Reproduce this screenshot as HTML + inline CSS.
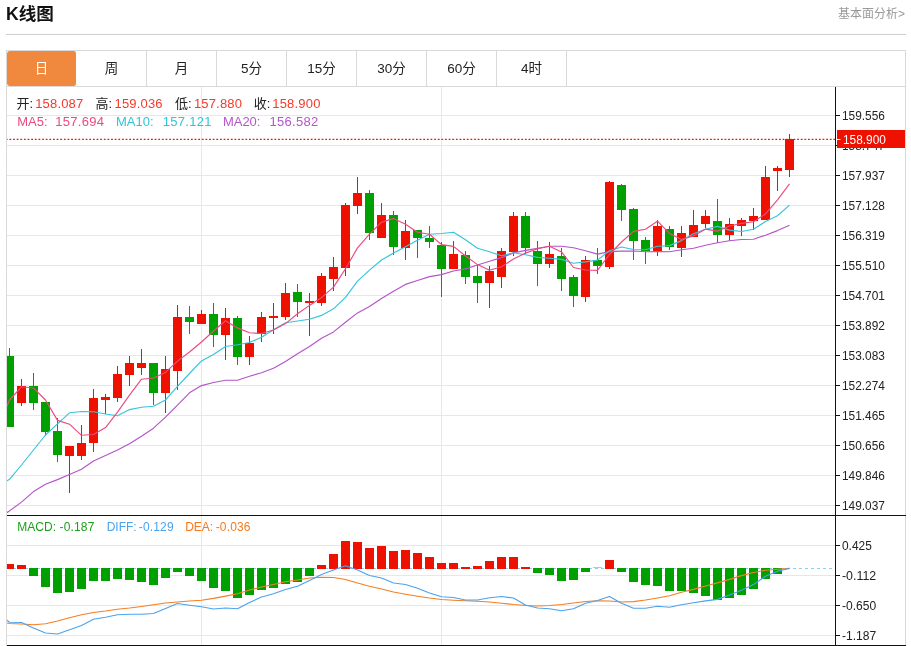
<!DOCTYPE html>
<html lang="zh-CN"><head><meta charset="utf-8"><title>K线图</title>
<style>
html,body{margin:0;padding:0;background:#fff;}
body{width:911px;height:646px;position:relative;overflow:hidden;font-family:"Liberation Sans","Noto Sans CJK SC",sans-serif;}
.title{position:absolute;left:6px;top:1.6px;font-size:17.6px;font-weight:bold;color:#111;line-height:24px;white-space:nowrap;}
.more{position:absolute;right:6px;top:5.5px;font-size:12px;color:#999;line-height:16px;white-space:nowrap;}
.hr{position:absolute;left:6px;top:34px;width:900px;height:1px;background:#cfcfcf;}
.tabs{position:absolute;left:6px;top:50px;width:898px;height:35px;border:1px solid #d9d9d9;background:#fff;}
.tab{float:left;width:69px;height:35px;line-height:35px;border-right:1px solid #d9d9d9;text-align:center;font-size:13.5px;color:#222;}
.tab.on{background:#f0883e;color:#fff;border-right-color:#fff;border-radius:3px;}
.t{position:absolute;line-height:16px;white-space:nowrap;}
</style></head><body>
<div class="title">K线图</div>
<div class="more">基本面分析&gt;</div>
<div class="hr"></div>
<div class="tabs"><div class="tab on">日</div><div class="tab">周</div><div class="tab">月</div><div class="tab">5分</div><div class="tab">15分</div><div class="tab">30分</div><div class="tab">60分</div><div class="tab">4时</div></div>
<svg width="911" height="646" viewBox="0 0 911 646" style="position:absolute;left:0;top:0">
<defs><clipPath id="cp"><rect x="7" y="87" width="828" height="559"/></clipPath></defs>
<g fill="#dfe9f1" shape-rendering="crispEdges">
<rect x="7" y="115" width="828" height="1"/>
<rect x="7" y="145" width="828" height="1"/>
<rect x="7" y="175" width="828" height="1"/>
<rect x="7" y="205" width="828" height="1"/>
<rect x="7" y="235" width="828" height="1"/>
<rect x="7" y="265" width="828" height="1"/>
<rect x="7" y="295" width="828" height="1"/>
<rect x="7" y="325" width="828" height="1"/>
<rect x="7" y="355" width="828" height="1"/>
<rect x="7" y="385" width="828" height="1"/>
<rect x="7" y="415" width="828" height="1"/>
<rect x="7" y="445" width="828" height="1"/>
<rect x="7" y="475" width="828" height="1"/>
<rect x="7" y="505" width="828" height="1"/>
<rect x="7" y="545" width="828" height="1"/>
<rect x="7" y="575" width="828" height="1"/>
<rect x="7" y="605" width="828" height="1"/>
<rect x="7" y="635" width="828" height="1"/>
<rect x="201" y="87" width="1" height="559"/>
<rect x="441" y="87" width="1" height="559"/>
</g>
<g shape-rendering="crispEdges">
<rect x="6" y="87" width="1" height="559" fill="#d9d9d9"/>
<rect x="905" y="87" width="1" height="559" fill="#d9d9d9"/>
</g>
<g clip-path="url(#cp)">
<line x1="7" y1="568.5" x2="835" y2="568.5" stroke="#8ccff2" stroke-width="1" stroke-dasharray="3 3"/>
<g shape-rendering="crispEdges">
<rect x="9" y="348" width="1" height="79" fill="#00a000"/>
<rect x="5" y="356" width="9" height="71" fill="#00a000"/>
<rect x="21" y="379" width="1" height="27" fill="#ee1100"/>
<rect x="17" y="386" width="9" height="17" fill="#ee1100"/>
<rect x="33" y="373" width="1" height="37" fill="#00a000"/>
<rect x="29" y="386" width="9" height="17" fill="#00a000"/>
<rect x="45" y="402" width="1" height="34" fill="#00a000"/>
<rect x="41" y="402" width="9" height="30" fill="#00a000"/>
<rect x="57" y="418" width="1" height="44" fill="#00a000"/>
<rect x="53" y="431" width="9" height="24" fill="#00a000"/>
<rect x="69" y="446" width="1" height="47" fill="#ee1100"/>
<rect x="65" y="446" width="9" height="10" fill="#ee1100"/>
<rect x="81" y="425" width="1" height="35" fill="#ee1100"/>
<rect x="77" y="443" width="9" height="13" fill="#ee1100"/>
<rect x="93" y="389" width="1" height="63" fill="#ee1100"/>
<rect x="89" y="398" width="9" height="45" fill="#ee1100"/>
<rect x="105" y="394" width="1" height="20" fill="#ee1100"/>
<rect x="101" y="397" width="9" height="3" fill="#ee1100"/>
<rect x="117" y="366" width="1" height="36" fill="#ee1100"/>
<rect x="113" y="374" width="9" height="24" fill="#ee1100"/>
<rect x="129" y="356" width="1" height="30" fill="#ee1100"/>
<rect x="125" y="363" width="9" height="12" fill="#ee1100"/>
<rect x="141" y="349" width="1" height="26" fill="#ee1100"/>
<rect x="137" y="363" width="9" height="5" fill="#ee1100"/>
<rect x="153" y="363" width="1" height="42" fill="#00a000"/>
<rect x="149" y="363" width="9" height="30" fill="#00a000"/>
<rect x="165" y="356" width="1" height="57" fill="#ee1100"/>
<rect x="161" y="369" width="9" height="24" fill="#ee1100"/>
<rect x="177" y="305" width="1" height="85" fill="#ee1100"/>
<rect x="173" y="317" width="9" height="54" fill="#ee1100"/>
<rect x="189" y="306" width="1" height="28" fill="#00a000"/>
<rect x="185" y="317" width="9" height="5" fill="#00a000"/>
<rect x="201" y="310" width="1" height="14" fill="#ee1100"/>
<rect x="197" y="314" width="9" height="10" fill="#ee1100"/>
<rect x="213" y="303" width="1" height="44" fill="#00a000"/>
<rect x="209" y="314" width="9" height="21" fill="#00a000"/>
<rect x="225" y="308" width="1" height="52" fill="#ee1100"/>
<rect x="221" y="318" width="9" height="17" fill="#ee1100"/>
<rect x="237" y="316" width="1" height="49" fill="#00a000"/>
<rect x="233" y="318" width="9" height="39" fill="#00a000"/>
<rect x="249" y="336" width="1" height="29" fill="#ee1100"/>
<rect x="245" y="343" width="9" height="14" fill="#ee1100"/>
<rect x="261" y="312" width="1" height="30" fill="#ee1100"/>
<rect x="257" y="317" width="9" height="17" fill="#ee1100"/>
<rect x="273" y="303" width="1" height="31" fill="#ee1100"/>
<rect x="269" y="316" width="9" height="2" fill="#ee1100"/>
<rect x="285" y="283" width="1" height="37" fill="#ee1100"/>
<rect x="281" y="293" width="9" height="24" fill="#ee1100"/>
<rect x="297" y="284" width="1" height="33" fill="#00a000"/>
<rect x="293" y="292" width="9" height="10" fill="#00a000"/>
<rect x="309" y="293" width="1" height="43" fill="#ee1100"/>
<rect x="305" y="301" width="9" height="2" fill="#ee1100"/>
<rect x="321" y="273" width="1" height="33" fill="#ee1100"/>
<rect x="317" y="276" width="9" height="27" fill="#ee1100"/>
<rect x="333" y="257" width="1" height="34" fill="#ee1100"/>
<rect x="329" y="267" width="9" height="12" fill="#ee1100"/>
<rect x="345" y="203" width="1" height="73" fill="#ee1100"/>
<rect x="341" y="205" width="9" height="63" fill="#ee1100"/>
<rect x="357" y="177" width="1" height="37" fill="#ee1100"/>
<rect x="353" y="193" width="9" height="13" fill="#ee1100"/>
<rect x="369" y="190" width="1" height="50" fill="#00a000"/>
<rect x="365" y="193" width="9" height="40" fill="#00a000"/>
<rect x="381" y="203" width="1" height="35" fill="#ee1100"/>
<rect x="377" y="215" width="9" height="23" fill="#ee1100"/>
<rect x="393" y="211" width="1" height="44" fill="#00a000"/>
<rect x="389" y="215" width="9" height="32" fill="#00a000"/>
<rect x="405" y="220" width="1" height="40" fill="#ee1100"/>
<rect x="401" y="231" width="9" height="17" fill="#ee1100"/>
<rect x="417" y="230" width="1" height="28" fill="#00a000"/>
<rect x="413" y="230" width="9" height="8" fill="#00a000"/>
<rect x="429" y="226" width="1" height="22" fill="#00a000"/>
<rect x="425" y="238" width="9" height="4" fill="#00a000"/>
<rect x="441" y="242" width="1" height="55" fill="#00a000"/>
<rect x="437" y="245" width="9" height="24" fill="#00a000"/>
<rect x="453" y="241" width="1" height="28" fill="#ee1100"/>
<rect x="449" y="254" width="9" height="15" fill="#ee1100"/>
<rect x="465" y="251" width="1" height="33" fill="#00a000"/>
<rect x="461" y="255" width="9" height="22" fill="#00a000"/>
<rect x="477" y="265" width="1" height="38" fill="#00a000"/>
<rect x="473" y="276" width="9" height="7" fill="#00a000"/>
<rect x="489" y="266" width="1" height="42" fill="#ee1100"/>
<rect x="485" y="271" width="9" height="12" fill="#ee1100"/>
<rect x="501" y="248" width="1" height="40" fill="#ee1100"/>
<rect x="497" y="251" width="9" height="26" fill="#ee1100"/>
<rect x="513" y="212" width="1" height="44" fill="#ee1100"/>
<rect x="509" y="216" width="9" height="36" fill="#ee1100"/>
<rect x="525" y="212" width="1" height="42" fill="#00a000"/>
<rect x="521" y="216" width="9" height="32" fill="#00a000"/>
<rect x="537" y="241" width="1" height="45" fill="#00a000"/>
<rect x="533" y="251" width="9" height="13" fill="#00a000"/>
<rect x="549" y="242" width="1" height="26" fill="#ee1100"/>
<rect x="545" y="254" width="9" height="10" fill="#ee1100"/>
<rect x="561" y="248" width="1" height="43" fill="#00a000"/>
<rect x="557" y="256" width="9" height="23" fill="#00a000"/>
<rect x="573" y="275" width="1" height="32" fill="#00a000"/>
<rect x="569" y="277" width="9" height="19" fill="#00a000"/>
<rect x="585" y="256" width="1" height="46" fill="#ee1100"/>
<rect x="581" y="260" width="9" height="37" fill="#ee1100"/>
<rect x="597" y="248" width="1" height="26" fill="#00a000"/>
<rect x="593" y="260" width="9" height="6" fill="#00a000"/>
<rect x="609" y="181" width="1" height="88" fill="#ee1100"/>
<rect x="605" y="182" width="9" height="85" fill="#ee1100"/>
<rect x="621" y="184" width="1" height="37" fill="#00a000"/>
<rect x="617" y="185" width="9" height="25" fill="#00a000"/>
<rect x="633" y="208" width="1" height="52" fill="#00a000"/>
<rect x="629" y="209" width="9" height="32" fill="#00a000"/>
<rect x="645" y="237" width="1" height="27" fill="#00a000"/>
<rect x="641" y="240" width="9" height="11" fill="#00a000"/>
<rect x="657" y="220" width="1" height="36" fill="#ee1100"/>
<rect x="653" y="226" width="9" height="25" fill="#ee1100"/>
<rect x="669" y="226" width="1" height="24" fill="#00a000"/>
<rect x="665" y="229" width="9" height="18" fill="#00a000"/>
<rect x="681" y="226" width="1" height="31" fill="#ee1100"/>
<rect x="677" y="233" width="9" height="15" fill="#ee1100"/>
<rect x="693" y="210" width="1" height="27" fill="#ee1100"/>
<rect x="689" y="225" width="9" height="12" fill="#ee1100"/>
<rect x="705" y="210" width="1" height="18" fill="#ee1100"/>
<rect x="701" y="216" width="9" height="8" fill="#ee1100"/>
<rect x="717" y="199" width="1" height="44" fill="#00a000"/>
<rect x="713" y="221" width="9" height="14" fill="#00a000"/>
<rect x="729" y="218" width="1" height="23" fill="#ee1100"/>
<rect x="725" y="224" width="9" height="11" fill="#ee1100"/>
<rect x="741" y="218" width="1" height="18" fill="#ee1100"/>
<rect x="737" y="220" width="9" height="6" fill="#ee1100"/>
<rect x="753" y="208" width="1" height="22" fill="#ee1100"/>
<rect x="749" y="216" width="9" height="5" fill="#ee1100"/>
<rect x="765" y="166" width="1" height="54" fill="#ee1100"/>
<rect x="761" y="177" width="9" height="43" fill="#ee1100"/>
<rect x="777" y="166" width="1" height="25" fill="#ee1100"/>
<rect x="773" y="168" width="9" height="3" fill="#ee1100"/>
<rect x="789" y="134" width="1" height="43" fill="#ee1100"/>
<rect x="785" y="139" width="9" height="31" fill="#ee1100"/>
<rect x="5" y="564" width="9" height="5" fill="#ee1100"/>
<rect x="17" y="565" width="9" height="4" fill="#ee1100"/>
<rect x="29" y="568" width="9" height="8" fill="#00a000"/>
<rect x="41" y="568" width="9" height="19" fill="#00a000"/>
<rect x="53" y="568" width="9" height="25" fill="#00a000"/>
<rect x="65" y="568" width="9" height="24" fill="#00a000"/>
<rect x="77" y="568" width="9" height="21" fill="#00a000"/>
<rect x="89" y="568" width="9" height="13" fill="#00a000"/>
<rect x="101" y="568" width="9" height="13" fill="#00a000"/>
<rect x="113" y="568" width="9" height="11" fill="#00a000"/>
<rect x="125" y="568" width="9" height="12" fill="#00a000"/>
<rect x="137" y="568" width="9" height="14" fill="#00a000"/>
<rect x="149" y="568" width="9" height="17" fill="#00a000"/>
<rect x="161" y="568" width="9" height="10" fill="#00a000"/>
<rect x="173" y="568" width="9" height="4" fill="#00a000"/>
<rect x="185" y="568" width="9" height="8" fill="#00a000"/>
<rect x="197" y="568" width="9" height="13" fill="#00a000"/>
<rect x="209" y="568" width="9" height="20" fill="#00a000"/>
<rect x="221" y="568" width="9" height="23" fill="#00a000"/>
<rect x="233" y="568" width="9" height="30" fill="#00a000"/>
<rect x="245" y="568" width="9" height="27" fill="#00a000"/>
<rect x="257" y="568" width="9" height="22" fill="#00a000"/>
<rect x="269" y="568" width="9" height="20" fill="#00a000"/>
<rect x="281" y="568" width="9" height="16" fill="#00a000"/>
<rect x="293" y="568" width="9" height="14" fill="#00a000"/>
<rect x="305" y="568" width="9" height="8" fill="#00a000"/>
<rect x="317" y="565" width="9" height="4" fill="#ee1100"/>
<rect x="329" y="554" width="9" height="15" fill="#ee1100"/>
<rect x="341" y="541" width="9" height="28" fill="#ee1100"/>
<rect x="353" y="542" width="9" height="27" fill="#ee1100"/>
<rect x="365" y="548" width="9" height="21" fill="#ee1100"/>
<rect x="377" y="546" width="9" height="23" fill="#ee1100"/>
<rect x="389" y="551" width="9" height="18" fill="#ee1100"/>
<rect x="401" y="550" width="9" height="19" fill="#ee1100"/>
<rect x="413" y="553" width="9" height="16" fill="#ee1100"/>
<rect x="425" y="557" width="9" height="12" fill="#ee1100"/>
<rect x="437" y="563" width="9" height="6" fill="#ee1100"/>
<rect x="449" y="563" width="9" height="6" fill="#ee1100"/>
<rect x="461" y="567" width="9" height="2" fill="#ee1100"/>
<rect x="473" y="566" width="9" height="3" fill="#ee1100"/>
<rect x="485" y="561" width="9" height="8" fill="#ee1100"/>
<rect x="497" y="557" width="9" height="12" fill="#ee1100"/>
<rect x="509" y="557" width="9" height="12" fill="#ee1100"/>
<rect x="521" y="567" width="9" height="2" fill="#ee1100"/>
<rect x="533" y="568" width="9" height="5" fill="#00a000"/>
<rect x="545" y="568" width="9" height="7" fill="#00a000"/>
<rect x="557" y="568" width="9" height="13" fill="#00a000"/>
<rect x="569" y="568" width="9" height="12" fill="#00a000"/>
<rect x="581" y="568" width="9" height="4" fill="#00a000"/>
<rect x="593" y="567" width="9" height="1" fill="#f7b0a8"/>
<rect x="605" y="560" width="9" height="9" fill="#ee1100"/>
<rect x="617" y="568" width="9" height="4" fill="#00a000"/>
<rect x="629" y="568" width="9" height="14" fill="#00a000"/>
<rect x="641" y="568" width="9" height="17" fill="#00a000"/>
<rect x="653" y="568" width="9" height="18" fill="#00a000"/>
<rect x="665" y="568" width="9" height="23" fill="#00a000"/>
<rect x="677" y="568" width="9" height="23" fill="#00a000"/>
<rect x="689" y="568" width="9" height="25" fill="#00a000"/>
<rect x="701" y="568" width="9" height="28" fill="#00a000"/>
<rect x="713" y="568" width="9" height="32" fill="#00a000"/>
<rect x="725" y="568" width="9" height="30" fill="#00a000"/>
<rect x="737" y="568" width="9" height="27" fill="#00a000"/>
<rect x="749" y="568" width="9" height="21" fill="#00a000"/>
<rect x="761" y="568" width="9" height="11" fill="#00a000"/>
<rect x="773" y="568" width="9" height="6" fill="#00a000"/>
</g>
<polyline points="-2.5,518.6 9.5,510.9 21.5,502.1 33.5,491.6 45.5,484.3 57.5,479.6 69.5,474.5 81.5,469.3 93.5,461.0 105.5,455.5 117.5,450.0 129.5,443.8 141.5,436.2 153.5,428.2 165.5,417.2 177.5,405.2 189.5,392.8 201.5,385.6 213.5,382.5 225.5,380.2 237.5,380.2 249.5,376.3 261.5,372.7 273.5,368.2 285.5,361.4 297.5,353.8 309.5,346.5 321.5,338.2 333.5,331.9 345.5,322.3 357.5,312.9 369.5,306.4 381.5,298.5 393.5,291.2 405.5,284.4 417.5,280.5 429.5,276.6 441.5,274.6 453.5,271.0 465.5,268.9 477.5,265.0 489.5,261.3 501.5,257.6 513.5,252.9 525.5,250.4 537.5,248.4 549.5,246.2 561.5,246.2 573.5,247.8 585.5,250.7 597.5,254.1 609.5,251.6 621.5,251.1 633.5,251.0 645.5,251.8 657.5,251.5 669.5,251.7 681.5,249.8 693.5,248.2 705.5,245.3 717.5,242.8 729.5,240.7 741.5,239.5 753.5,239.3 765.5,235.2 777.5,230.6 789.5,225.2" fill="none" stroke="#b455c8" stroke-width="1.15" stroke-linejoin="round"/>
<polyline points="-2.5,487.0 9.5,479.3 21.5,465.0 33.5,450.0 45.5,435.0 57.5,423.8 69.5,412.8 81.5,411.5 93.5,411.8 105.5,414.0 117.5,415.8 129.5,409.6 141.5,407.3 153.5,406.2 165.5,399.9 177.5,386.3 189.5,373.5 201.5,360.9 213.5,354.5 225.5,346.5 237.5,344.7 249.5,342.5 261.5,337.3 273.5,329.7 285.5,322.8 297.5,321.0 309.5,319.2 321.5,315.4 333.5,308.8 345.5,297.3 357.5,281.2 369.5,270.1 381.5,260.0 393.5,253.1 405.5,246.8 417.5,240.2 429.5,234.2 441.5,233.5 453.5,232.2 465.5,239.8 477.5,248.3 489.5,251.8 501.5,255.8 513.5,252.8 525.5,254.7 537.5,257.4 549.5,258.3 561.5,259.4 573.5,263.3 585.5,261.9 597.5,260.1 609.5,250.7 621.5,247.0 633.5,249.5 645.5,249.7 657.5,246.3 669.5,245.6 681.5,240.6 693.5,233.7 705.5,229.3 717.5,226.4 729.5,230.1 741.5,231.5 753.5,229.2 765.5,221.5 777.5,215.8 789.5,205.1" fill="none" stroke="#35c4dc" stroke-width="1.15" stroke-linejoin="round"/>
<polyline points="-2.5,429.0 9.5,400.0 21.5,386.8 33.5,388.0 45.5,400.0 57.5,420.4 69.5,424.2 81.5,435.3 93.5,434.5 105.5,427.6 117.5,412.1 129.5,395.2 141.5,379.2 153.5,378.0 165.5,372.4 177.5,361.1 189.5,352.0 201.5,342.0 213.5,331.0 225.5,320.7 237.5,327.9 249.5,332.8 261.5,333.5 273.5,330.0 285.5,323.6 297.5,313.7 309.5,305.4 321.5,297.6 333.5,287.1 345.5,268.8 357.5,247.9 369.5,234.2 381.5,222.2 393.5,218.4 405.5,224.3 417.5,232.3 429.5,234.2 441.5,244.6 453.5,246.4 465.5,256.0 477.5,264.6 489.5,270.2 501.5,266.7 513.5,259.0 525.5,253.1 537.5,248.8 549.5,246.3 561.5,251.9 573.5,267.5 585.5,270.0 597.5,270.4 609.5,254.5 621.5,242.0 633.5,231.4 645.5,229.3 657.5,221.2 669.5,233.4 681.5,239.5 693.5,235.9 705.5,229.1 717.5,231.1 729.5,226.0 741.5,223.4 753.5,221.7 765.5,213.9 777.5,199.8 789.5,183.8" fill="none" stroke="#ec4a80" stroke-width="1.15" stroke-linejoin="round"/>
<polyline points="-2.5,621.0 9.5,623.5 21.5,624.0 33.5,624.8 45.5,623.8 57.5,621.0 69.5,617.8 81.5,614.8 93.5,612.5 105.5,611.0 117.5,609.2 129.5,608.0 141.5,606.5 153.5,604.8 165.5,603.0 177.5,602.0 189.5,601.0 201.5,600.2 213.5,598.4 225.5,596.1 237.5,593.8 249.5,590.0 261.5,587.0 273.5,584.5 285.5,581.8 297.5,580.0 309.5,578.0 321.5,577.2 333.5,577.5 345.5,579.5 357.5,583.0 369.5,586.2 381.5,589.0 393.5,592.0 405.5,594.2 417.5,596.2 429.5,598.0 441.5,599.5 453.5,600.2 465.5,600.8 477.5,601.2 489.5,602.0 501.5,603.2 513.5,604.5 525.5,605.5 537.5,606.0 549.5,605.5 561.5,604.5 573.5,603.0 585.5,601.5 597.5,600.8 609.5,601.0 621.5,602.0 633.5,601.6 645.5,600.0 657.5,598.0 669.5,595.8 681.5,592.2 693.5,589.4 705.5,586.0 717.5,582.9 729.5,579.4 741.5,575.6 753.5,572.5 765.5,570.2 777.5,569.2 789.5,568.4" fill="none" stroke="#f57e22" stroke-width="1.15" stroke-linejoin="round"/>
<polyline points="-2.5,612.6 9.5,622.2 21.5,622.5 33.5,628.0 45.5,633.0 57.5,634.0 69.5,629.8 81.5,625.5 93.5,619.2 105.5,617.2 117.5,614.8 129.5,614.2 141.5,614.2 153.5,613.5 165.5,608.5 177.5,603.5 189.5,605.2 201.5,606.8 213.5,609.0 225.5,608.0 237.5,608.8 249.5,602.5 261.5,597.0 273.5,593.8 285.5,589.5 297.5,586.2 309.5,580.5 321.5,574.5 333.5,570.0 345.5,565.8 357.5,570.0 369.5,575.5 381.5,578.0 393.5,583.0 405.5,584.5 417.5,588.2 429.5,593.0 441.5,596.8 453.5,597.5 465.5,600.0 477.5,600.0 489.5,597.8 501.5,596.5 513.5,598.0 525.5,605.0 537.5,608.0 549.5,608.8 561.5,610.8 573.5,608.8 585.5,603.2 597.5,600.5 609.5,596.5 621.5,603.2 633.5,608.2 645.5,608.2 657.5,606.2 669.5,607.2 681.5,604.8 693.5,602.8 705.5,600.9 717.5,599.4 729.5,595.0 741.5,590.2 753.5,584.6 765.5,576.2 777.5,571.2 789.5,568.4" fill="none" stroke="#4ba3ee" stroke-width="1.15" stroke-linejoin="round"/>
</g>
<line x1="7" y1="139.3" x2="835" y2="139.3" stroke="#f01800" stroke-width="1.25" stroke-dasharray="1.8 1.83" stroke-dashoffset="1.2"/>
<g shape-rendering="crispEdges" fill="#111">
<rect x="7" y="515" width="899" height="1"/>
<rect x="7" y="645" width="899" height="1"/>
<rect x="835" y="87" width="1" height="559"/>
<rect x="836" y="115" width="4" height="1"/>
<rect x="836" y="145" width="4" height="1"/>
<rect x="836" y="175" width="4" height="1"/>
<rect x="836" y="205" width="4" height="1"/>
<rect x="836" y="235" width="4" height="1"/>
<rect x="836" y="265" width="4" height="1"/>
<rect x="836" y="295" width="4" height="1"/>
<rect x="836" y="325" width="4" height="1"/>
<rect x="836" y="355" width="4" height="1"/>
<rect x="836" y="385" width="4" height="1"/>
<rect x="836" y="415" width="4" height="1"/>
<rect x="836" y="445" width="4" height="1"/>
<rect x="836" y="475" width="4" height="1"/>
<rect x="836" y="505" width="4" height="1"/>
<rect x="836" y="545" width="4" height="1"/>
<rect x="836" y="575" width="4" height="1"/>
<rect x="836" y="605" width="4" height="1"/>
<rect x="836" y="635" width="4" height="1"/>
</g>
<g font-family="'Liberation Sans',sans-serif" font-size="12.5" fill="#222">
<text x="842" y="119.5" textLength="42.9" lengthAdjust="spacingAndGlyphs">159.556</text>
<text x="842" y="149.5" textLength="42.9" lengthAdjust="spacingAndGlyphs">158.747</text>
<text x="842" y="179.5" textLength="42.9" lengthAdjust="spacingAndGlyphs">157.937</text>
<text x="842" y="209.5" textLength="42.9" lengthAdjust="spacingAndGlyphs">157.128</text>
<text x="842" y="239.5" textLength="42.9" lengthAdjust="spacingAndGlyphs">156.319</text>
<text x="842" y="269.5" textLength="42.9" lengthAdjust="spacingAndGlyphs">155.510</text>
<text x="842" y="299.5" textLength="42.9" lengthAdjust="spacingAndGlyphs">154.701</text>
<text x="842" y="329.5" textLength="42.9" lengthAdjust="spacingAndGlyphs">153.892</text>
<text x="842" y="359.5" textLength="42.9" lengthAdjust="spacingAndGlyphs">153.083</text>
<text x="842" y="389.5" textLength="42.9" lengthAdjust="spacingAndGlyphs">152.274</text>
<text x="842" y="419.5" textLength="42.9" lengthAdjust="spacingAndGlyphs">151.465</text>
<text x="842" y="449.5" textLength="42.9" lengthAdjust="spacingAndGlyphs">150.656</text>
<text x="842" y="479.5" textLength="42.9" lengthAdjust="spacingAndGlyphs">149.846</text>
<text x="842" y="509.5" textLength="42.9" lengthAdjust="spacingAndGlyphs">149.037</text>
<text x="842" y="549.5" textLength="29.8" lengthAdjust="spacingAndGlyphs">0.425</text>
<text x="842" y="579.5" textLength="34.2" lengthAdjust="spacingAndGlyphs">-0.112</text>
<text x="842" y="609.5" textLength="34.2" lengthAdjust="spacingAndGlyphs">-0.650</text>
<text x="842" y="639.5" textLength="34.2" lengthAdjust="spacingAndGlyphs">-1.187</text>
</g>
<rect x="837" y="130" width="68" height="18" fill="#ee1100" shape-rendering="crispEdges"/>
<rect x="837" y="139" width="3.5" height="1" fill="#fff"/>
<text x="843" y="144" font-family="'Liberation Sans',sans-serif" font-size="12.5" fill="#fff" textLength="42.9" lengthAdjust="spacingAndGlyphs">158.900</text>
</svg>
<span class="t" style="left:16.5px;top:95.5px;color:#222;font-size:13px;">开:</span>
<span class="t" style="left:35.2px;top:95.5px;color:#f5392b;font-size:13px;letter-spacing:0.18px;">158.087</span>
<span class="t" style="left:95.6px;top:95.5px;color:#222;font-size:13px;">高:</span>
<span class="t" style="left:114.5px;top:95.5px;color:#f5392b;font-size:13px;letter-spacing:0.18px;">159.036</span>
<span class="t" style="left:175px;top:95.5px;color:#222;font-size:13px;">低:</span>
<span class="t" style="left:193.9px;top:95.5px;color:#f5392b;font-size:13px;letter-spacing:0.18px;">157.880</span>
<span class="t" style="left:253.8px;top:95.5px;color:#222;font-size:13px;">收:</span>
<span class="t" style="left:272.3px;top:95.5px;color:#f5392b;font-size:13px;letter-spacing:0.18px;">158.900</span>
<span class="t" style="left:17.2px;top:113.6px;color:#ea4a7f;font-size:13px;">MA5:</span>
<span class="t" style="left:55.2px;top:113.6px;color:#ea4a7f;font-size:13px;letter-spacing:0.3px;">157.694</span>
<span class="t" style="left:116px;top:113.6px;color:#32c3da;font-size:13px;">MA10:</span>
<span class="t" style="left:162.7px;top:113.6px;color:#32c3da;font-size:13px;letter-spacing:0.3px;">157.121</span>
<span class="t" style="left:222.9px;top:113.6px;color:#b556c9;font-size:13px;">MA20:</span>
<span class="t" style="left:269.5px;top:113.6px;color:#b556c9;font-size:13px;letter-spacing:0.3px;">156.582</span>
<span class="t" style="left:17.3px;top:519px;color:#1ba11b;font-size:12px;">MACD:</span>
<span class="t" style="left:59.6px;top:519px;color:#1ba11b;font-size:12px;letter-spacing:0.15px;">-0.187</span>
<span class="t" style="left:106.7px;top:519px;color:#4aa3ee;font-size:12px;">DIFF:</span>
<span class="t" style="left:138.8px;top:519px;color:#4aa3ee;font-size:12px;letter-spacing:0.15px;">-0.129</span>
<span class="t" style="left:185.2px;top:519px;color:#f57a1e;font-size:12px;">DEA:</span>
<span class="t" style="left:215.7px;top:519px;color:#f57a1e;font-size:12px;letter-spacing:0.15px;">-0.036</span>
</body></html>
